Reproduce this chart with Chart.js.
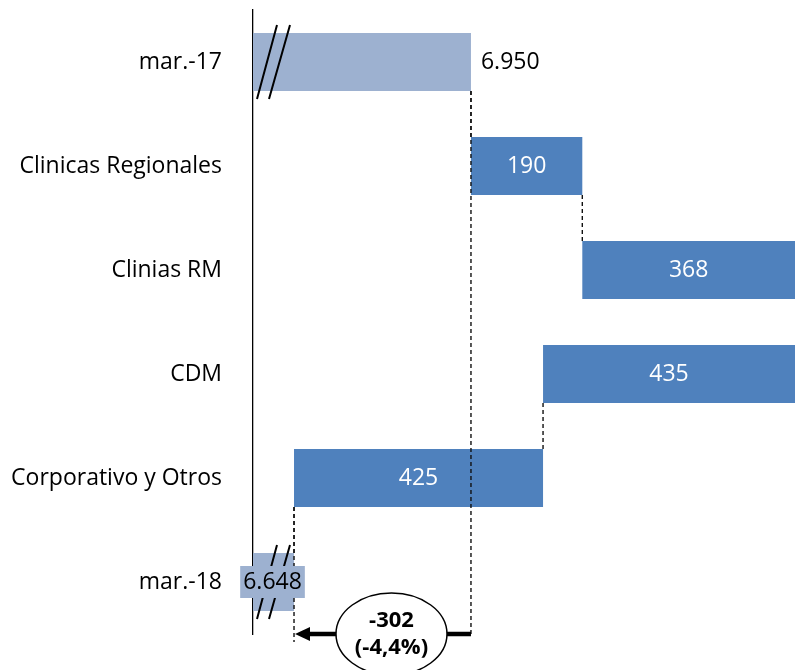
<!DOCTYPE html>
<html>
<head>
<meta charset="utf-8">
<script src="https://cdn.jsdelivr.net/npm/chart.js@4/dist/chart.umd.min.js"></script>
<style>
  html, body { margin: 0; padding: 0; background: #fff; }
</style>
</head>
<body>
<canvas id="cascada" width="795" height="670"></canvas>
<script>
// datos del grafico (cascada horizontal)
const categorias = ['mar.-17', 'Clinicas Regionales', 'Clinias RM', 'CDM', 'Corporativo y Otros', 'mar.-18'];
const variaciones = [6950, 190, 368, -435, -425, 6648];
const esTotal = [true, false, false, false, false, true];
const etiquetas = ['6.950', '190', '368', '435', '425', '6.648'];
const ejeMin = 6578;
const ejeMax = 7503;
const diferencia = '-302';
const diferenciaPct = '(-4,4%)';

const fuente = "'Open Sans', sans-serif";
const tamano = 23;
const azul = '#4F81BD';
const azulClaro = '#9DB1D0';

// rangos flotantes de cada barra
let acumulado = 0;
const acumulados = [];
const rangos = variaciones.map((v, i) => {
    if (esTotal[i]) {
        acumulado = v;
        acumulados.push(v);
        return [ejeMin, v];
    }
    const inicio = acumulado;
    acumulado += v;
    acumulados.push(acumulado);
    return [Math.min(inicio, acumulado), Math.max(inicio, acumulado)];
});
const colores = esTotal.map(t => t ? azulClaro : azul);

// lineas de union, cortes de eje, etiquetas y flecha de diferencia
const anotaciones = {
    id: 'anotaciones',
    afterDatasetsDraw(chart) {
        const { ctx, chartArea } = chart;
        const x = chart.scales.x;
        const barras = chart.getDatasetMeta(0).data;
        const arriba = b => b.y - b.height / 2;
        const abajo = b => b.y + b.height / 2;
        const yFlecha = chartArea.bottom;

        ctx.save();
        // conectores punteados
        ctx.strokeStyle = '#111';
        ctx.lineWidth = 1.4;
        ctx.setLineDash([4, 3]);
        for (let i = 0; i < barras.length - 1; i++) {
            const px = x.getPixelForValue(acumulados[i]);
            if (px > chartArea.right) continue;
            ctx.beginPath();
            ctx.moveTo(px, abajo(barras[i]));
            ctx.lineTo(px, arriba(barras[i + 1]));
            ctx.stroke();
        }
        const xIni = x.getPixelForValue(variaciones[0]);
        const xFin = x.getPixelForValue(variaciones[5]);
        ctx.beginPath();
        ctx.moveTo(xIni, abajo(barras[0]));
        ctx.lineTo(xIni, yFlecha);
        ctx.moveTo(xFin, abajo(barras[4]));
        ctx.lineTo(xFin, yFlecha + 8);
        ctx.stroke();
        ctx.setLineDash([]);

        // cortes del eje (//)
        ctx.strokeStyle = '#000';
        ctx.lineWidth = 2;
        [0, 5].forEach(i => {
            const bx = x.getPixelForValue(ejeMin);
            const cy = barras[i].y;
            ctx.beginPath();
            ctx.moveTo(bx + 4, cy + 37);
            ctx.lineTo(bx + 24, cy - 37);
            ctx.moveTo(bx + 16, cy + 37);
            ctx.lineTo(bx + 37, cy - 37);
            ctx.stroke();
        });

        // etiquetas de valores
        ctx.font = tamano + 'px ' + fuente;
        ctx.textBaseline = 'middle';
        barras.forEach((b, i) => {
            if (i === 0) {
                ctx.fillStyle = '#000';
                ctx.textAlign = 'left';
                ctx.fillText(etiquetas[i], b.x + 10, b.y);
            } else if (i === 5) {
                const cx = (b.base + b.x) / 2 - 1;
                const w = ctx.measureText(etiquetas[i]).width + 6;
                ctx.fillStyle = azulClaro;
                ctx.fillRect(cx - w / 2, b.y - 16, w, 32);
                ctx.fillStyle = '#000';
                ctx.textAlign = 'center';
                ctx.fillText(etiquetas[i], cx, b.y);
            } else {
                const izq = Math.min(b.x, b.base);
                const der = Math.min(Math.max(b.x, b.base), chartArea.right);
                ctx.fillStyle = '#fff';
                ctx.textAlign = 'center';
                ctx.fillText(etiquetas[i], (izq + der) / 2, b.y);
            }
        });

        // flecha de diferencia
        ctx.fillStyle = '#000';
        ctx.strokeStyle = '#000';
        ctx.lineWidth = 4.5;
        ctx.beginPath();
        ctx.moveTo(xIni, yFlecha);
        ctx.lineTo(xFin + 14, yFlecha);
        ctx.stroke();
        ctx.beginPath();
        ctx.moveTo(xFin + 1, yFlecha);
        ctx.lineTo(xFin + 16, yFlecha - 7);
        ctx.lineTo(xFin + 16, yFlecha + 7);
        ctx.closePath();
        ctx.fill();

        // elipse con la diferencia
        const ex = (xIni + xFin) / 2 + 9;
        ctx.beginPath();
        ctx.ellipse(ex, yFlecha, 55.5, 41, 0, 0, Math.PI * 2);
        ctx.fillStyle = '#fff';
        ctx.fill();
        ctx.lineWidth = 1.5;
        ctx.stroke();
        ctx.fillStyle = '#000';
        ctx.textAlign = 'center';
        ctx.font = 'bold 22px ' + fuente;
        ctx.fillText(diferencia, ex, yFlecha - 13);
        ctx.fillText(diferenciaPct, ex, yFlecha + 14);
        ctx.restore();
    }
};

const ctx = document.getElementById('cascada').getContext('2d');
new Chart(ctx, {
    type: 'bar',
    data: {
        labels: categorias,
        datasets: [{
            data: rangos,
            backgroundColor: colores,
            borderWidth: 0,
            barPercentage: 0.558,
            categoryPercentage: 1
        }]
    },
    options: {
        indexAxis: 'y',
        responsive: false,
        animation: false,
        devicePixelRatio: 1,
        layout: { padding: { top: 10, bottom: 36, left: 0, right: 0 } },
        plugins: {
            legend: { display: false },
            tooltip: { enabled: false }
        },
        scales: {
            x: { display: false, min: ejeMin, max: ejeMax },
            y: {
                grid: { display: false, drawTicks: false },
                border: { display: true, color: '#000', width: 1.3 },
                ticks: { padding: 31, color: '#000', font: { family: fuente, size: tamano } },
                afterFit(scale) {
                    scale.width = 253;
                    scale.paddingTop = 0;
                    scale.paddingBottom = 0;
                }
            }
        }
    },
    plugins: [anotaciones]
});
</script>
</body>
</html>
